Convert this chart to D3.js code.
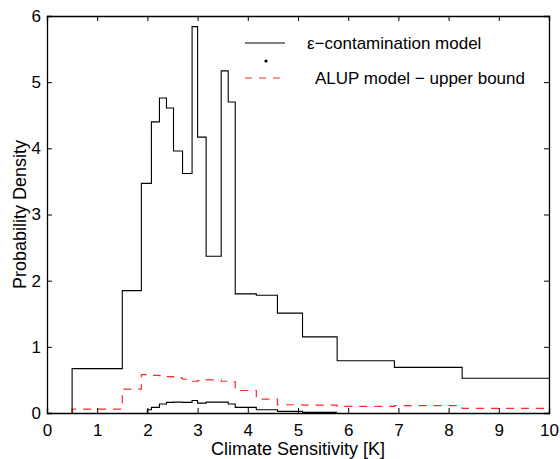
<!DOCTYPE html>
<html>
<head>
<meta charset="utf-8">
<script src="https://cdn.jsdelivr.net/npm/d3@7"></script>
<style>
  body { margin: 0; background: #fff; }
  svg { font-family: "Liberation Sans", Arial, Helvetica, sans-serif; }
</style>
</head>
<body>
<svg id="chart" width="560" height="459"></svg>
<script>
// bin edges shared by the histograms
const edges = [0.5, 1.5, 1.88, 2.08, 2.24, 2.38, 2.52, 2.70, 2.89, 3.0, 3.17, 3.47, 3.61, 3.75, 4.17, 4.59, 5.09, 5.78, 6.92, 8.27, 10]
// eps-contamination model density per bin
const epsDensity = [0.67, 1.85, 3.47, 4.40, 4.76, 4.61, 3.96, 3.62, 5.84, 4.17, 2.37, 5.17, 4.70, 1.80, 1.78, 1.51, 1.15, 0.79, 0.69, 0.525]
// ALUP model upper bound per bin
const alupUpper = [0.06, 0.36, 0.58, 0.57, 0.565, 0.55, 0.53, 0.51, 0.48, 0.49, 0.50, 0.48, 0.47, 0.34, 0.21, 0.125, 0.12, 0.10, 0.11, 0.07]
// small unlabeled histogram near zero
const lowEdges = [2.0, 2.08, 2.24, 2.38, 2.52, 2.70, 2.89, 3.0, 3.17, 3.47, 3.61, 3.75, 4.17, 4.59, 5.09, 5.78]
const lowDensity = [0.05, 0.085, 0.135, 0.16, 0.165, 0.16, 0.19, 0.15, 0.165, 0.165, 0.135, 0.085, 0.05, 0.025, 0.01]

const xTicks = d3.range(0, 11, 1)
const yTicks = d3.range(0, 7, 1)
const legendLabels = ["\u03b5\u2212contamination model", "ALUP model \u2212 upper bound"]

const margin = { top: 16, right: 11, bottom: 46, left: 47 }
const width = 560 - margin.left - margin.right
const height = 459 - margin.top - margin.bottom

const svg = d3.select("#chart")
const g = svg.append("g").attr("transform", `translate(${margin.left},${margin.top})`)

const x = d3.scaleLinear().domain([0, 10]).range([0, width])
const y = d3.scaleLinear().domain([0, 6]).range([height, 0])

function steps(e, v) {
  const pts = [[e[0], 0]]
  v.forEach((d, i) => pts.push([e[i], d]))
  pts.push([e[e.length - 1], v[v.length - 1]])
  return pts
}

const line = d3.line()
  .x(d => x(d[0]))
  .y(d => y(d[1]))
  .curve(d3.curveStepAfter)

g.append("path")
  .datum(steps(edges, alupUpper))
  .attr("d", line)
  .attr("fill", "none")
  .attr("stroke", "#ff2a2a")
  .attr("stroke-width", 1.2)
  .attr("stroke-dasharray", "8,7")

g.append("path")
  .datum(steps(lowEdges, lowDensity))
  .attr("d", line)
  .attr("fill", "none")
  .attr("stroke", "#000")
  .attr("stroke-width", 1.1)

g.append("path")
  .datum(steps(edges, epsDensity))
  .attr("d", line)
  .attr("fill", "none")
  .attr("stroke", "#000")
  .attr("stroke-width", 1.1)

// axes with inward ticks on all four sides
const tl = 5
g.append("g").attr("transform", `translate(0,${height})`)
  .call(d3.axisBottom(x).tickValues(xTicks).tickSize(-tl).tickPadding(11).tickFormat(d3.format("d")))
g.append("g")
  .call(d3.axisLeft(y).tickValues(yTicks).tickSize(-tl).tickPadding(6).tickFormat(d3.format("d")))
g.append("g").call(d3.axisTop(x).tickValues(xTicks).tickSize(-tl).tickFormat(""))
g.append("g").attr("transform", `translate(${width},0)`)
  .call(d3.axisRight(y).tickValues(yTicks).tickSize(-tl).tickFormat(""))

g.selectAll(".domain").attr("stroke", "#000").attr("stroke-width", 1.3)
g.selectAll(".tick line").attr("stroke", "#000")
g.selectAll(".tick text").attr("font-size", 17).attr("font-family", "Liberation Sans, Arial, sans-serif").attr("fill", "#000")

svg.append("text")
  .attr("x", margin.left + width / 2)
  .attr("y", 455)
  .attr("text-anchor", "middle")
  .attr("font-size", 18)
  .text("Climate Sensitivity [K]")

svg.append("text")
  .attr("transform", `translate(26,${margin.top + height / 2}) rotate(-90)`)
  .attr("text-anchor", "middle")
  .attr("font-size", 18)
  .text("Probability Density")

// legend
const lg = svg.append("g")
lg.append("line").attr("x1", 245).attr("x2", 285).attr("y1", 43).attr("y2", 43)
  .attr("stroke", "#000").attr("stroke-width", 1)
lg.append("circle").attr("cx", 266).attr("cy", 61).attr("r", 1.6).attr("fill", "#000")
lg.append("line").attr("x1", 245).attr("x2", 286).attr("y1", 78).attr("y2", 78)
  .attr("stroke", "#ff2a2a").attr("stroke-width", 1).attr("stroke-dasharray", "7,7")
lg.append("text").attr("x", 307).attr("y", 49).attr("font-size", 17).text(legendLabels[0])
lg.append("text").attr("x", 315).attr("y", 84).attr("font-size", 17).text(legendLabels[1])
</script>
</body>
</html>
